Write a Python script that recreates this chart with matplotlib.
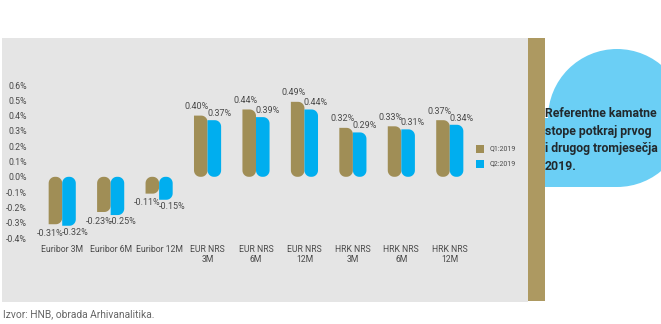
import numpy as np
import matplotlib
matplotlib.use("Agg")
import matplotlib.pyplot as plt
from matplotlib.patches import Polygon, Rectangle, Circle

plt.rcParams['font.family'] = ['Roboto', 'DejaVu Sans']

#%% DATA

categories = ["Euribor 3M", "Euribor 6M", "Euribor 12M", "EUR NRS\n3M", "EUR NRS\n6M",
              "EUR NRS\n12M", "HRK NRS\n3M", "HRK NRS\n6M", "HRK NRS\n12M"]
q1_2019 = [-0.31, -0.23, -0.11, 0.40, 0.44, 0.49, 0.32, 0.33, 0.37]
q2_2019 = [-0.32, -0.25, -0.15, 0.37, 0.39, 0.44, 0.29, 0.31, 0.34]
series_names = ["Q1:2019", "Q2:2019"]
y_ticks = [-0.4, -0.3, -0.2, -0.1, 0.0, 0.1, 0.2, 0.3, 0.4, 0.5, 0.6]

gold = "#A08E56"
blue = "#00AEEF"
text_col = "#4a4a4a"

#%% FIGURE + DECORATION

fig = plt.figure(figsize=(6.61, 3.24), dpi=100)
bg = fig.add_axes([0, 0, 1, 1], zorder=0)
bg.set_xlim(0, 661)
bg.set_ylim(324, 0)
bg.axis("off")

# grey panel, gold strip, blue blob
bg.add_patch(Rectangle((2, 38), 526, 264, color="#E5E5E5", lw=0))
bg.add_patch(Circle((617, 118), 69, color="#6BCFF5", lw=0))
bg.add_patch(Rectangle((545, 118), 72, 69, color="#6BCFF5", lw=0))
bg.add_patch(Rectangle((528, 38), 17, 263, color="#AD9961", lw=0))
bg.text(545, 140, "Referentne kamatne\nstope potkraj prvog\ni drugog tromjesečja\n2019.",
        fontsize=8.8, fontweight="bold", color="#22292d", va="center", ha="left", linespacing=1.45)
bg.text(3, 314, "Izvor: HNB, obrada Arhivanalitika.", fontsize=7.4, color="#666666",
        va="center", ha="left")

#%% BARS

ax = fig.add_axes([38 / 661, 86 / 324, 436 / 661, 153 / 324], zorder=1)
ax.set_facecolor("none")
ax.set_xlim(-0.5, len(categories) - 0.5)
ax.set_ylim(y_ticks[0], y_ticks[-1])

bar_w = 0.28
rx = 0.13
ry = 0.042


def rounded_bar(ax, x0, x1, val, color):
    ylo, yhi = min(0, val), max(0, val)
    # far-left corner stays square, the rest are rounded
    square = "tl" if val > 0 else "bl"
    corners = [("bl", x0 + rx, ylo + ry, 180, 270, x0, ylo),
               ("br", x1 - rx, ylo + ry, 270, 360, x1, ylo),
               ("tr", x1 - rx, yhi - ry, 0, 90, x1, yhi),
               ("tl", x0 + rx, yhi - ry, 90, 180, x0, yhi)]
    pts = []
    for name, cx, cy, a0, a1, px, py in corners:
        if name == square:
            pts.append((px, py))
        else:
            t = np.radians(np.linspace(a0, a1, 12))
            pts += list(zip(cx + rx * np.cos(t), cy + ry * np.sin(t)))
    ax.add_patch(Polygon(pts, closed=True, color=color, lw=0))


x = np.arange(len(categories))
for i in range(len(categories)):
    rounded_bar(ax, x[i] - bar_w, x[i], q1_2019[i], gold)
    rounded_bar(ax, x[i], x[i] + bar_w, q2_2019[i], blue)

    # value labels
    v1, v2 = q1_2019[i], q2_2019[i]
    s1 = 1 if v1 > 0 else -1
    s2 = 1 if v2 > 0 else -1
    ax.annotate(f"{v1:.2f}%", (x[i] + 0.03, v1), xytext=(0, 6.5 * s1), textcoords="offset points",
                ha="right", va="center", fontsize=6.5, color=text_col, annotation_clip=False)
    ax.annotate(f"{v2:.2f}%", (x[i] - 0.01, v2), xytext=(0, 4.8 * s2), textcoords="offset points",
                ha="left", va="center", fontsize=6.5, color=text_col, annotation_clip=False)

ax.set_xticks(x)
ax.set_xticklabels(categories, fontsize=6.2, color=text_col, linespacing=1.2)
ax.set_yticks(y_ticks)
ax.set_yticklabels([f"{v:.1f}%" for v in y_ticks], fontsize=6.3, color=text_col)
ax.tick_params(axis="both", length=0)
ax.tick_params(axis="y", pad=8)
ax.tick_params(axis="x", pad=5)
for s in ax.spines.values():
    s.set_visible(False)

#%% LEGEND (hand-placed squares next to plot)

for j, (name, col) in enumerate(zip(series_names, [gold, blue])):
    bg.add_patch(Rectangle((476, 145 + 15 * j), 7.5, 7.5, color=col, lw=0))
    bg.text(490, 149 + 15 * j, name, fontsize=5, color=text_col, va="center", ha="left")

fig.savefig("out.png", dpi=100)
